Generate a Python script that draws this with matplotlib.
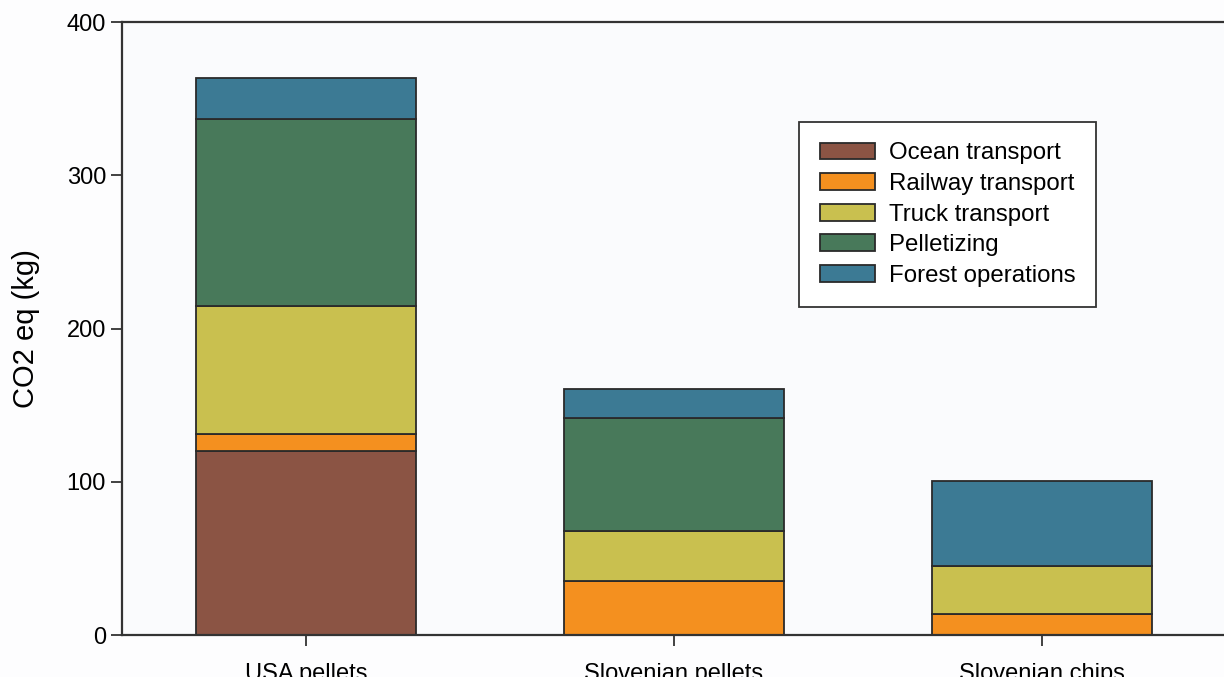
import matplotlib
matplotlib.use("Agg")
import matplotlib.pyplot as plt
import numpy as np

plt.rcParams['font.family'] = ['Liberation Sans', 'DejaVu Sans']

products = ['USA pellets', 'Slovenian pellets', 'Slovenian chips']
stages = ['Ocean transport', 'Railway transport', 'Truck transport', 'Pelletizing', 'Forest operations']
ocean = [120, 0, 0]
railway = [11, 35, 13.5]
truck = [84, 33, 31.5]
pelletizing = [122, 73.5, 0]
forest = [26.5, 19, 55.5]
colors = ['#8b5444', '#f4901f', '#c9c04f', '#48795a', '#3c7a94']

fig = plt.figure(figsize=(12.24, 6.77), dpi=100)
fig.patch.set_facecolor('#fdfdfe')
ax = fig.add_axes([0.0997, 0.062, 0.902, 0.9055])
ax.set_facecolor('#fafbfd')

x = np.arange(len(products))
bottom = np.zeros(len(products))
for name, vals, c in zip(stages, [ocean, railway, truck, pelletizing, forest], colors):
    vals = np.array(vals, dtype=float)
    ax.bar(x, vals, width=0.6, bottom=bottom, color=c, edgecolor='#2a2a2a',
           linewidth=1.3, label=name)
    bottom += vals

ax.set_xlim(-0.5, 2.5)
ax.set_ylim(0, 400)
ax.set_yticks([0, 100, 200, 300, 400])
ax.set_xticks(x)
ax.set_xticklabels(products)
ax.tick_params(axis='both', labelsize=17, length=8, width=1.3, color='#333333')
ax.tick_params(axis='x', pad=12)
ax.set_ylabel('CO2 eq (kg)', fontsize=21, labelpad=19)
for s in ['left', 'top', 'bottom']:
    ax.spines[s].set_linewidth(1.6)
    ax.spines[s].set_color('#333333')
ax.spines['right'].set_visible(False)

leg = ax.legend(loc='upper left', bbox_to_anchor=(0.6134, 0.837), fontsize=17.3,
                frameon=True, fancybox=False, edgecolor='#333333',
                handlelength=2.3, handleheight=0.7, labelspacing=0.36,
                borderpad=0.85, handletextpad=0.58, borderaxespad=0)
leg.get_frame().set_linewidth(1.3)
leg.get_frame().set_facecolor('white')
leg.get_frame().set_alpha(1)

fig.savefig('out.png', dpi=100)
